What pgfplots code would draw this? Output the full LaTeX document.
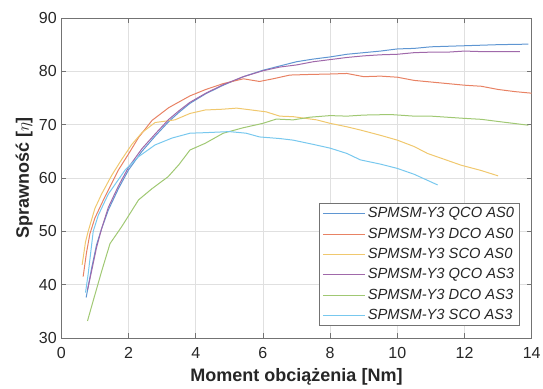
\documentclass[border=0pt]{standalone}
\usepackage{fontspec}
\setmainfont{Liberation Sans}
\usepackage{graphicx}
\usepackage{pgfplots}
\pgfplotsset{compat=1.18}

\definecolor{cA}{RGB}{95,150,210}
\definecolor{cB}{RGB}{232,130,100}
\definecolor{cC}{RGB}{240,200,110}
\definecolor{cD}{RGB}{160,105,170}
\definecolor{cE}{RGB}{160,200,115}
\definecolor{cF}{RGB}{120,200,238}

\begin{document}
\begin{tikzpicture}
\useasboundingbox (-61.3pt,-50pt) rectangle (481.7pt,338pt);
\begin{axis}[
  at={(0,0)}, anchor=south west,
  scale only axis, width=470.4pt, height=320pt,
  xmin=0, xmax=14, ymin=30, ymax=90,
  xtick={0,2,...,14}, ytick={30,40,...,90},
  tick align=inside, major tick length=5pt,
  grid=major, grid style={black!12, line width=0.6pt},
  axis line style={black!55, line width=0.7pt},
  tick style={black!55, line width=0.7pt},
  ticklabel style={font=\fontsize{16}{16}\selectfont, text=black!85},
  /pgf/number format/assume math mode=true,
  xticklabel style={yshift=-6pt},
  yticklabel style={xshift=-1pt},
  xlabel={\textbf{Moment obciążenia [Nm]}},
  ylabel={\rotatebox{90}{\textbf{Sprawność [}$\eta$\textbf{]}}},
  every axis x label/.style={at={(axis description cs:0.5,0)}, anchor=base, yshift=-43pt, font=\fontsize{18}{18}\selectfont, text=black!85},
  every axis y label/.style={at={(axis description cs:0,0.5)}, anchor=east, inner sep=0pt, xshift=-28.5pt, font=\fontsize{18}{18}\selectfont, text=black!85},
  legend cell align=left,
  legend image code/.code={\draw[#1, line width=1pt] (0pt,0pt) -- (42pt,0pt);},
  legend style={at={(axis description cs:0.975,0.0375)}, anchor=south east,
    font=\fontsize{14.7}{14.7}\selectfont\itshape, text=black!85,
    draw=black!55, line width=0.7pt, inner xsep=3pt, inner ysep=3.3pt,
    row sep=6.3pt,
    nodes={inner xsep=2.5pt, inner ysep=0pt, text height=11pt, text depth=3pt}},
  every axis plot/.append style={line width=1pt},
]
\addplot[cA] coordinates {(0.74,37.6)(0.9,43)(1.05,47.5)(1.2,50.5)(1.4,54)(1.7,58)(2.0,61.5)(2.4,65)(2.8,67.9)(3.2,70.6)(3.5,72.3)(3.83,74)(4.3,75.8)(4.82,77.4)(5.42,79)(6.0,80.2)(6.5,81)(7.0,81.8)(7.5,82.3)(8,82.7)(8.5,83.2)(9,83.5)(9.5,83.8)(10,84.2)(10.5,84.3)(11,84.6)(11.5,84.7)(12,84.8)(12.5,84.9)(13,85.0)(13.9,85.1)};
\addlegendentry{SPMSM-Y3 QCO AS0}
\addplot[cB] coordinates {(0.65,41.5)(0.75,46)(0.85,49.5)(1.0,52.5)(1.3,56.5)(1.7,61.5)(2.0,64.5)(2.3,67.6)(2.7,70.8)(3.2,73.2)(3.83,75.4)(4.3,76.6)(4.82,77.7)(5.42,78.6)(5.9,78.1)(6.3,78.6)(6.8,79.3)(7.3,79.4)(8,79.5)(8.5,79.6)(9,79.0)(9.5,79.1)(10,78.9)(10.5,78.3)(11,78.0)(11.5,77.7)(12,77.4)(12.5,77.2)(13,76.6)(13.5,76.2)(14,75.9)};
\addlegendentry{SPMSM-Y3 DCO AS0}
\addplot[cC] coordinates {(0.62,43.7)(0.72,48)(0.8,50)(1.0,54.3)(1.2,57)(1.5,60.5)(1.8,63.5)(2.1,66.3)(2.4,68.5)(2.79,70.4)(3.38,70.9)(3.83,72.1)(4.28,72.75)(4.8,72.9)(5.22,73.1)(5.6,72.8)(6.1,72.4)(6.5,71.6)(6.9,71.5)(7.6,70.9)(8,70.25)(8.5,69.6)(8.9,69)(9.5,68)(10,67.1)(10.5,65.9)(10.9,64.6)(11.4,63.5)(11.9,62.4)(12.5,61.4)(13,60.4)};
\addlegendentry{SPMSM-Y3 SCO AS0}
\addplot[cD] coordinates {(0.78,39)(0.9,42.5)(1.05,47)(1.2,50.5)(1.4,54.5)(1.7,58.5)(2.0,62)(2.4,65.5)(2.8,68.3)(3.2,71)(3.5,72.6)(3.83,74.2)(4.3,75.9)(4.82,77.5)(5.42,79)(6.0,80.1)(6.5,80.8)(7,81.2)(7.5,81.8)(8,82.2)(8.5,82.6)(9,82.9)(9.5,83.1)(10,83.2)(10.5,83.5)(11,83.6)(11.5,83.6)(12,83.8)(12.5,83.7)(13,83.7)(13.65,83.7)};
\addlegendentry{SPMSM-Y3 QCO AS3}
\addplot[cE] coordinates {(0.78,33.2)(0.95,37)(1.2,42.5)(1.45,47.7)(1.8,50.9)(2.3,55.9)(2.7,58)(3.18,60.25)(3.5,62.5)(3.83,65.25)(4.28,66.5)(4.82,68.4)(5.4,69.4)(6.0,70.25)(6.4,71.05)(6.9,70.9)(7.4,71.4)(8,71.7)(8.5,71.6)(9,71.8)(9.8,71.9)(10.5,71.6)(11,71.6)(11.95,71.2)(12.5,71.0)(13,70.6)(13.9,69.9)};
\addlegendentry{SPMSM-Y3 DCO AS3}
\addplot[cF] coordinates {(0.72,38.5)(0.8,42)(0.95,50)(1.1,53)(1.4,57)(1.9,61.5)(2.3,64)(2.79,66.2)(3.3,67.5)(3.83,68.4)(4.28,68.5)(5.0,68.7)(5.5,68.4)(5.9,67.7)(6.5,67.4)(6.9,67.1)(7.5,66.3)(8,65.6)(8.5,64.6)(8.9,63.4)(9.5,62.6)(10,61.8)(10.5,60.7)(11.2,58.7)};
\addlegendentry{SPMSM-Y3 SCO AS3}
\end{axis}
\end{tikzpicture}
\end{document}
